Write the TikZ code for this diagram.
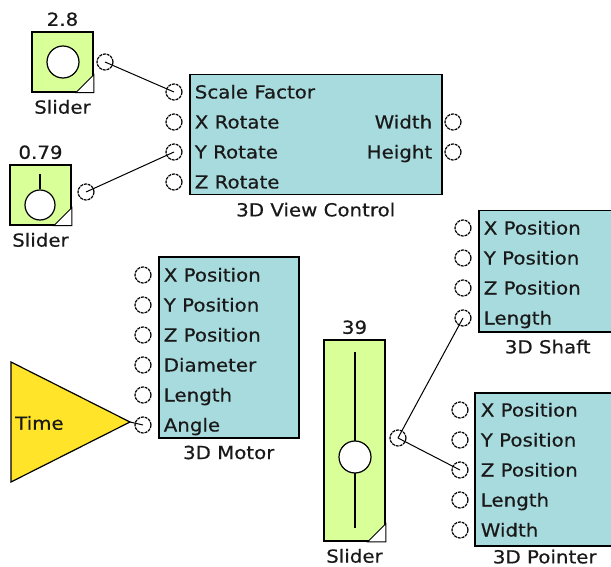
\documentclass[tikz,border=0pt]{standalone}
\usepackage{fontspec}
\setmainfont[FakeStretch=1.1, FakeBold=0.5]{DejaVu Sans}
\usepackage{xcolor}
\usetikzlibrary{positioning}

\definecolor{sliderGreen}{RGB}{216,255,152}
\definecolor{blockBlue}{RGB}{168,219,222}
\definecolor{timeYellow}{RGB}{255,228,42}

\begin{document}
\begin{tikzpicture}[x=1pt, y=-1pt,
    every node/.style={font=\fontsize{18}{20}\selectfont, text=black!90},
    slider/.style={draw, line width=1.5pt, fill=sliderGreen, inner sep=0pt},
    knob/.style={circle, draw, line width=1.2pt, fill=white, inner sep=0pt},
    block/.style={draw, line width=1.5pt, fill=blockBlue, inner sep=0pt, anchor=north west},
    port/.style={circle, draw, line width=1.2pt, dash pattern=on 3pt off 0.9pt, fill=white, minimum size=16pt, inner sep=0pt},
    portlabel/.style={inner sep=0pt, text height=13pt, text depth=0pt, label distance=12pt},
    inport/.style={port, label={[portlabel]right:#1}},
    outport/.style={port, label={[portlabel]left:#1}},
    caption/.style={inner sep=0pt},
    wire/.style={line width=1pt}]
    \useasboundingbox (0,0) rectangle (611,567);

    % sliders feeding the view control
    \node[slider, minimum width=61pt, minimum height=60pt] (slider1) at (62.5,62) {};
    \node[knob, minimum size=32pt] (knob1) at (63,62) {};
    \draw[line width=1pt, fill=white] (slider1.south east) -- ++(-18,0) -- ++(18,-18) -- cycle;
    \node[caption, above=5pt of slider1] (value1) {2.8};
    \node[caption, below=7pt of slider1] (name1) {Slider};
    \node[port] (s1out) at (105,62) {};

    \node[slider, minimum width=61pt, minimum height=60pt] (slider2) at (40.5,195) {};
    \node[knob, minimum size=30pt] (knob2) at (40,205) {};
    \draw[line width=1.2pt] (knob2.north) -- ++(0,-15);
    \draw[line width=1pt, fill=white] (slider2.south east) -- ++(-18,0) -- ++(18,-18) -- cycle;
    \node[caption, above=5pt of slider2] (value2) {0.79};
    \node[caption, below=7pt of slider2] (name2) {Slider};
    \node[port] (s2out) at (86,192) {};

    % 3D view control
    \node[block, minimum width=252pt, minimum height=120pt] (view) at (189,74) {};
    \node[caption, below=7pt of view] (viewname) {3D View Control};
    \node[inport=Scale Factor] (vscale) at (174,92) {};
    \node[inport=X Rotate] (vxrot) at (174,122) {};
    \node[inport=Y Rotate] (vyrot) at (174,152) {};
    \node[inport=Z Rotate] (vzrot) at (174,182) {};
    \node[outport=Width] (vwidth) at (453,122) {};
    \node[outport=Height] (vheight) at (453,152) {};

    % 3D motor driven by time
    \node[block, minimum width=140pt, minimum height=181pt] (motor) at (158,256) {};
    \node[caption, below=7pt of motor] (motorname) {3D Motor};
    \node[inport=X Position] (mx) at (143,275) {};
    \node[inport=Y Position] (my) at (143,305) {};
    \node[inport=Z Position] (mz) at (143,335) {};
    \node[inport=Diameter] (mdiam) at (143,365) {};
    \node[inport=Length] (mlen) at (143,395) {};
    \node[inport=Angle] (mangle) at (143,425) {};

    \coordinate (timeout) at (130,422);
    \draw[line width=1.2pt, fill=timeYellow] (11,362) -- (timeout) -- (11,482) -- cycle;
    \node[caption, anchor=west] (time) at (15,423) {Time};

    % vertical slider
    \node[slider, minimum width=61pt, minimum height=201pt] (slider3) at (354.5,440.5) {};
    \draw[line width=1.2pt] (355,352) -- (355,528);
    \node[knob, minimum size=32pt] (knob3) at (355,457) {};
    \draw[line width=1pt, fill=white] (slider3.south east) -- ++(-18,0) -- ++(18,-18) -- cycle;
    \node[caption, above=5pt of slider3] (value3) {39};
    \node[caption, below=7pt of slider3] (name3) {Slider};
    \node[port] (s3out) at (398,438) {};

    % 3D shaft
    \node[block, minimum width=138pt, minimum height=121pt] (shaft) at (478,210) {};
    \node[caption, below=7pt of shaft] (shaftname) {3D Shaft};
    \node[inport=X Position] (shx) at (463,228) {};
    \node[inport=Y Position] (shy) at (463,258) {};
    \node[inport=Z Position] (shz) at (463,288) {};
    \node[inport=Length] (shlen) at (463,318) {};

    % 3D pointer
    \node[block, minimum width=140pt, minimum height=153pt] (pointer) at (474,392) {};
    \node[caption, below=3pt of pointer] (pointername) {3D Pointer};
    \node[inport=X Position] (px) at (460,410) {};
    \node[inport=Y Position] (py) at (460,440) {};
    \node[inport=Z Position] (pz) at (460,470) {};
    \node[inport=Length] (plen) at (460,500) {};
    \node[inport=Width] (pwidth) at (460,530) {};

    % wires
    \draw[wire] (s1out.center) -- (vscale.center);
    \draw[wire] (s2out.center) -- (vyrot.center);
    \draw[wire] (timeout) -- (mangle.center);
    \draw[wire] (s3out.center) -- (shlen.center);
    \draw[wire] (s3out.center) -- (pz.center);
\end{tikzpicture}
\end{document}
